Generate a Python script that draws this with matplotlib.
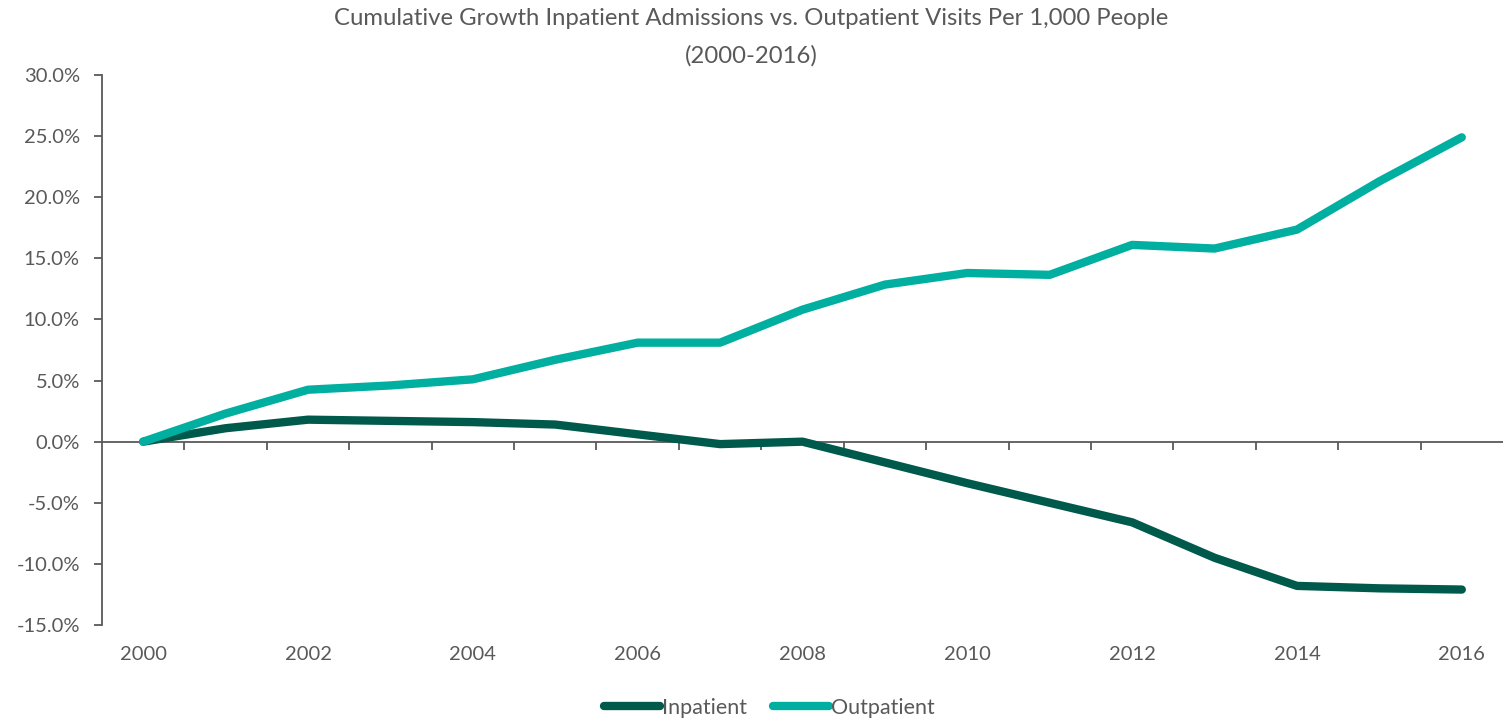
import numpy as np
import matplotlib.pyplot as plt
from matplotlib.transforms import blended_transform_factory

# Cumulative growth since 2000, percent
years = list(range(2000, 2017))
inpatient = [0.0, 1.1, 1.8, 1.7, 1.6, 1.4, 0.6, -0.2, 0.0, -1.7, -3.4,
             -5.0, -6.6, -9.5, -11.8, -12.0, -12.1]
outpatient = [0.0, 2.3, 4.25, 4.6, 5.1, 6.7, 8.1, 8.1, 10.8, 12.85, 13.8,
              13.65, 16.1, 15.8, 17.35, 21.3, 24.9]
ytick_vals = [-15, -10, -5, 0, 5, 10, 15, 20, 25, 30]

grey = "#595959"
plt.rcParams["font.family"] = ["Lato", "DejaVu Sans"]

fig = plt.figure(figsize=(15.03, 7.21), dpi=100)
ax = fig.add_axes([102 / 1503, 96 / 721, 1401 / 1503, 550 / 721])

x = np.arange(len(years))
ax.plot(x, inpatient, color="#005A4B", lw=6, solid_capstyle="round",
        solid_joinstyle="round", label="Inpatient", zorder=3)
ax.plot(x, outpatient, color="#00AFA0", lw=6, solid_capstyle="round",
        solid_joinstyle="round", label="Outpatient", zorder=3)

ax.set_xlim(-0.5, len(years) - 0.5)
ax.set_ylim(-15, 30)

# y axis
ax.set_yticks(ytick_vals)
ax.set_yticklabels([f"{v:.1f}%" for v in ytick_vals])
ax.tick_params(axis="y", direction="out", length=6, width=1.3, color=grey,
               labelcolor=grey, labelsize=14.5, pad=10)

# category axis crossing at zero, ticks between categories
for side in ["top", "right"]:
    ax.spines[side].set_visible(False)
ax.spines["left"].set_color(grey)
ax.spines["left"].set_linewidth(1.3)
ax.spines["bottom"].set_position(("data", 0))
ax.spines["bottom"].set_color(grey)
ax.spines["bottom"].set_linewidth(1.3)
ax.set_xticks(x[:-1] + 0.5)
ax.set_xticklabels([])
ax.tick_params(axis="x", direction="out", length=6, width=1.3, color=grey)

trans = blended_transform_factory(ax.transData, ax.transAxes)
for i, yr in enumerate(years):
    if yr % 2 == 0:
        ax.text(i, -0.053, str(yr), transform=trans, ha="center", va="center",
                fontsize=14.5, color=grey)

fig.text(0.5, 0.975, "Cumulative Growth Inpatient Admissions vs. Outpatient Visits Per 1,000 People",
         ha="center", va="center", fontsize=17.2, color=grey)
fig.text(0.5, 0.922, "(2000-2016)", ha="center", va="center", fontsize=17.2, color=grey)

leg = fig.legend(loc="center", bbox_to_anchor=(0.512, 0.018), ncol=2, frameon=False,
                 fontsize=15.5, handlelength=2.6, handletextpad=0.1,
                 columnspacing=1.2, labelcolor=grey)

fig.savefig("out.png", dpi=100)
